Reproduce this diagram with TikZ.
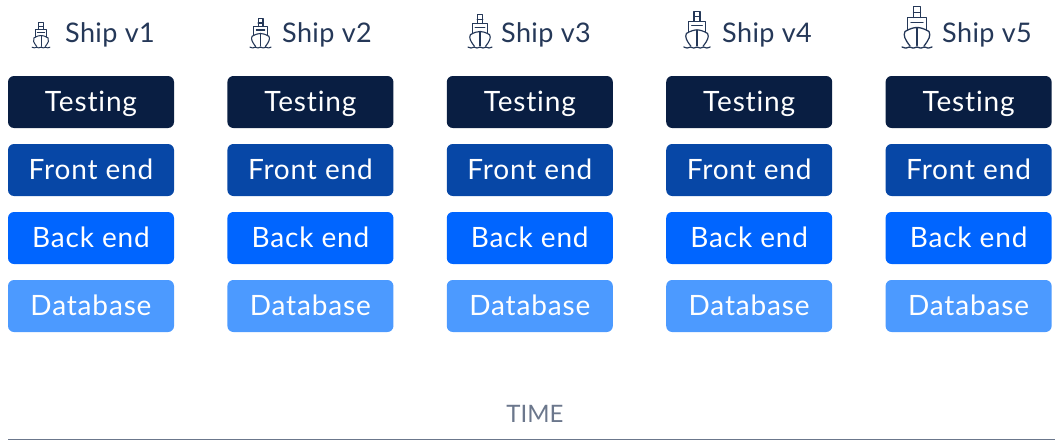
\documentclass[tikz,border=0pt]{standalone}
\usepackage{fontspec}
\setmainfont{Lato}
\newfontfamily\boxfont[LetterSpace=3,Ligatures=NoCommon]{Lato}
\newfontfamily\shipfont[LetterSpace=1.5,Ligatures=NoCommon]{Lato}
\definecolor{navy}{HTML}{091E42}
\definecolor{frontc}{HTML}{0747A6}
\definecolor{backc}{HTML}{0065FF}
\definecolor{datac}{HTML}{4C9AFF}
\definecolor{shiptext}{HTML}{253858}
\definecolor{timec}{HTML}{6B778C}
\tikzset{
  layerbox/.style={rounded corners=6pt,minimum width=166pt,minimum height=52pt,inner sep=0pt,text=white,text height=20pt,text depth=1.4pt,font=\boxfont\fontsize{28}{28}\selectfont},
  shiplabel/.style={anchor=west,inner sep=0pt,text=shiptext,font=\shipfont\fontsize{27}{27}\selectfont},
  shipicon/.style={draw=shiptext,line join=round,line cap=round},
  pics/shipglyph/.style={code={
    \draw[shipicon,line width=#1] (-15,0.5) .. controls (-12.5,-1) and (-10,-1) .. (-7.5,0.5) .. controls (-5,-1) and (-2.5,-1) .. (0,0.5) .. controls (2.5,-1) and (5,-1) .. (7.5,0.5) .. controls (10,-1) and (12.5,-1) .. (15,0.5);
    \draw[shipicon,line width=#1] (-7,1.5) .. controls (-12,8) and (-14,12) .. (-12,16) .. controls (-7,19) and (-3,20) .. (0,20) .. controls (3,20) and (7,19) .. (12,16) .. controls (14,12) and (12,8) .. (7,1.5);
    \draw[shipicon,line width=#1] (0,2) -- (0,20);
    \draw[shipicon,line width=#1] (-9.5,17.5) -- (-9.5,30) -- (9.5,30) -- (9.5,17.5);
    \draw[shipicon,line width=#1] (-6,25) -- (6,25);
    \draw[shipicon,line width=#1] (-3.5,30) -- (-3.5,41) -- (3.5,41) -- (3.5,30);
    \draw[shipicon,line width=#1] (-3.5,35) -- (3.5,35);
  }},
}
\begin{document}
\begin{tikzpicture}[x=1pt,y=-1pt]
\useasboundingbox (0,0) rectangle (1055,447);
\foreach \i/\cx/\ix/\s/\lx/\lw in {1/91/41/0.6/65/1.0, 2/310.4/260.5/0.7/282/1.1, 3/529.8/480/0.8/501/1.15, 4/749.2/697/0.88/722/1.2, 5/968.6/917/1/942/1.3}{
  \node[layerbox,fill=navy] (test\i) at (\cx,102) {Testing};
  \node[layerbox,fill=frontc] (front\i) at (\cx,170) {Front end};
  \node[layerbox,fill=backc] (back\i) at (\cx,238) {Back end};
  \node[layerbox,fill=datac] (data\i) at (\cx,306) {Database};
  \node[shiplabel] (ship\i) at (\lx,34.5) {Ship v\i};
  \coordinate (icon\i) at (\ix,47.5);
  \pic[x=\s pt,y=\s pt] at (icon\i) {shipglyph={\lw pt}};
}
\node[text=timec,inner sep=0pt,font=\fontsize{24}{24}\selectfont] (time) at (535,413.5) {TIME};
\coordinate (axisl) at (8,439.5);
\coordinate (axisr) at (1055,439.5);
\draw[timec,line width=1.8pt] (axisl) -- (axisr);
\end{tikzpicture}
\end{document}
